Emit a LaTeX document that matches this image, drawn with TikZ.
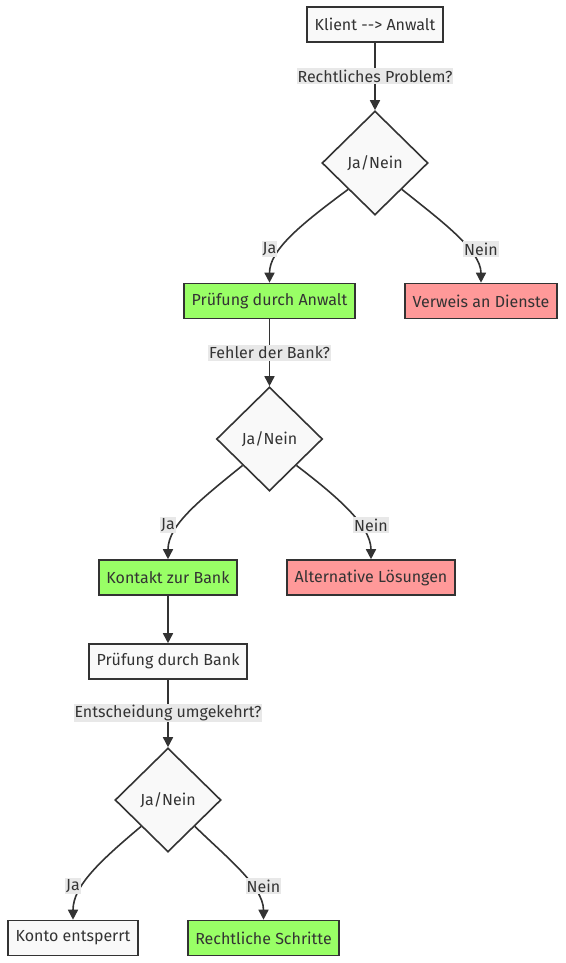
\documentclass[tikz,border=0pt]{standalone}
\usepackage{fontspec}
\setmainfont{Fira Sans}
\usetikzlibrary{shapes.geometric,arrows.meta}
\definecolor{ink}{HTML}{333333}
\definecolor{nodefill}{HTML}{F9F9F9}
\definecolor{okfill}{HTML}{99FF66}
\definecolor{nofill}{HTML}{FF9999}
\definecolor{lblfill}{HTML}{E8E8E8}
\tikzset{
  txt/.style={font=\fontsize{16}{19}\selectfont},
  box/.style={txt, draw=ink, line width=1.6pt, fill=nodefill, text=ink, inner xsep=7.5pt, minimum height=35pt},
  okbox/.style={box, fill=okfill},
  nobox/.style={box, fill=nofill},
  decide/.style={txt, diamond, draw=ink, line width=1.6pt, fill=nodefill, text=ink, inner sep=0pt, minimum width=106pt, minimum height=104pt},
  lbl/.style={txt, fill=lblfill, text=ink, inner xsep=1pt, inner ysep=1.5pt},
  conn/.style={draw=ink, line width=1.6pt, -{Triangle[length=10pt,width=10pt]}},
}
\begin{document}
\begin{tikzpicture}[x=1pt,y=-1pt]
\useasboundingbox (0,0) rectangle (565,963);
\node[box] (a) at (375,24.5) {Klient {-}{-}> Anwalt};
\node[decide] (d1) at (375,163) {Ja/Nein};
\node[okbox] (pa) at (269.5,301) {Prüfung durch Anwalt};
\node[nobox] (vd) at (481,301) {Verweis an Dienste};
\node[decide] (d2) at (269.5,439) {Ja/Nein};
\node[okbox] (kb) at (168,577.5) {Kontakt zur Bank};
\node[nobox] (al) at (371,577.5) {Alternative Lösungen};
\node[box] (pb) at (168,661.5) {Prüfung durch Bank};
\node[decide] (d3) at (168,800) {Ja/Nein};
\node[box] (ke) at (73,938) {Konto entsperrt};
\node[okbox] (rs) at (263.5,938) {Rechtliche Schritte};

\draw[conn] (a) -- (d1);
\draw[conn] (d1.south west) .. controls (300,225) and (269.5,250) .. (pa.north);
\draw[conn] (d1.south east) .. controls (440,220) and (481,250) .. (vd.north);
\draw[conn] (pa) -- (d2);
\draw[conn] (d2.south west) .. controls (200,500) and (168,525) .. (kb.north);
\draw[conn] (d2.south east) .. controls (335,495) and (371,525) .. (al.north);
\draw[conn] (kb) -- (pb);
\draw[conn] (pb) -- (d3);
\draw[conn] (d3.south west) .. controls (100,861) and (73,886) .. (ke.north);
\draw[conn] (d3.south east) .. controls (225,856) and (263.5,886) .. (rs.north);

\node[lbl] (l1) at (375,76) {Rechtliches Problem?};
\node[lbl] (l2) at (269.5,249) {Ja};
\node[lbl] (l3) at (481,249) {Nein};
\node[lbl] (l4) at (269.5,353) {Fehler der Bank?};
\node[lbl] (l5) at (168,525) {Ja};
\node[lbl] (l6) at (371,525) {Nein};
\node[lbl] (l7) at (168,713) {Entscheidung umgekehrt?};
\node[lbl] (l8) at (73,886) {Ja};
\node[lbl] (l9) at (263.5,886) {Nein};
\end{tikzpicture}
\end{document}
